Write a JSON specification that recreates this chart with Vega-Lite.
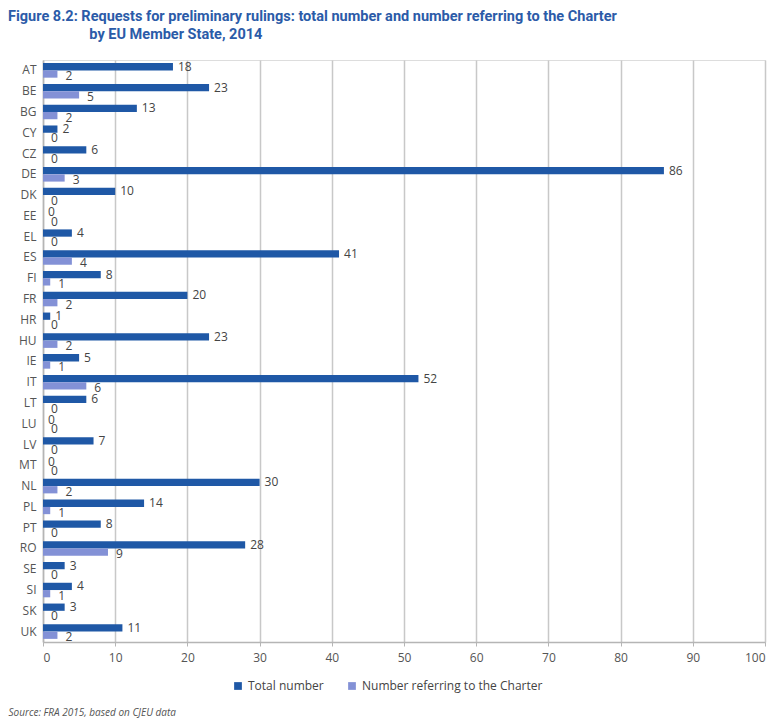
{
  "$schema": "https://vega.github.io/schema/vega-lite/v6.json",
  "width": 722,
  "height": 582,
  "autosize": {"type": "none"},
  "padding": {"left": 43, "top": 60, "right": 14, "bottom": 76},
  "background": "white",
  "title": {
    "text": ["Figure 8.2: Requests for preliminary rulings: total number and number referring to the Charter", "\u200b\u2002\u2002\u2002\u2002\u2002\u2002\u2002\u2002\u2002\u2002\u2002by EU Member State, 2014"],
    "anchor": "start",
    "frame": "group",
    "dx": -35,
    "offset": 18,
    "font": "Roboto, sans-serif",
    "fontSize": 14.5,
    "fontWeight": "bold",
    "color": "#2b5ba8",
    "lineHeight": 18
  },
  "data": {
    "values": [
      {"country": "AT", "series": "Total number", "value": 18},
      {"country": "AT", "series": "Number referring to the Charter", "value": 2},
      {"country": "BE", "series": "Total number", "value": 23},
      {"country": "BE", "series": "Number referring to the Charter", "value": 5},
      {"country": "BG", "series": "Total number", "value": 13},
      {"country": "BG", "series": "Number referring to the Charter", "value": 2},
      {"country": "CY", "series": "Total number", "value": 2},
      {"country": "CY", "series": "Number referring to the Charter", "value": 0},
      {"country": "CZ", "series": "Total number", "value": 6},
      {"country": "CZ", "series": "Number referring to the Charter", "value": 0},
      {"country": "DE", "series": "Total number", "value": 86},
      {"country": "DE", "series": "Number referring to the Charter", "value": 3},
      {"country": "DK", "series": "Total number", "value": 10},
      {"country": "DK", "series": "Number referring to the Charter", "value": 0},
      {"country": "EE", "series": "Total number", "value": 0},
      {"country": "EE", "series": "Number referring to the Charter", "value": 0},
      {"country": "EL", "series": "Total number", "value": 4},
      {"country": "EL", "series": "Number referring to the Charter", "value": 0},
      {"country": "ES", "series": "Total number", "value": 41},
      {"country": "ES", "series": "Number referring to the Charter", "value": 4},
      {"country": "FI", "series": "Total number", "value": 8},
      {"country": "FI", "series": "Number referring to the Charter", "value": 1},
      {"country": "FR", "series": "Total number", "value": 20},
      {"country": "FR", "series": "Number referring to the Charter", "value": 2},
      {"country": "HR", "series": "Total number", "value": 1},
      {"country": "HR", "series": "Number referring to the Charter", "value": 0},
      {"country": "HU", "series": "Total number", "value": 23},
      {"country": "HU", "series": "Number referring to the Charter", "value": 2},
      {"country": "IE", "series": "Total number", "value": 5},
      {"country": "IE", "series": "Number referring to the Charter", "value": 1},
      {"country": "IT", "series": "Total number", "value": 52},
      {"country": "IT", "series": "Number referring to the Charter", "value": 6},
      {"country": "LT", "series": "Total number", "value": 6},
      {"country": "LT", "series": "Number referring to the Charter", "value": 0},
      {"country": "LU", "series": "Total number", "value": 0},
      {"country": "LU", "series": "Number referring to the Charter", "value": 0},
      {"country": "LV", "series": "Total number", "value": 7},
      {"country": "LV", "series": "Number referring to the Charter", "value": 0},
      {"country": "MT", "series": "Total number", "value": 0},
      {"country": "MT", "series": "Number referring to the Charter", "value": 0},
      {"country": "NL", "series": "Total number", "value": 30},
      {"country": "NL", "series": "Number referring to the Charter", "value": 2},
      {"country": "PL", "series": "Total number", "value": 14},
      {"country": "PL", "series": "Number referring to the Charter", "value": 1},
      {"country": "PT", "series": "Total number", "value": 8},
      {"country": "PT", "series": "Number referring to the Charter", "value": 0},
      {"country": "RO", "series": "Total number", "value": 28},
      {"country": "RO", "series": "Number referring to the Charter", "value": 9},
      {"country": "SE", "series": "Total number", "value": 3},
      {"country": "SE", "series": "Number referring to the Charter", "value": 0},
      {"country": "SI", "series": "Total number", "value": 4},
      {"country": "SI", "series": "Number referring to the Charter", "value": 1},
      {"country": "SK", "series": "Total number", "value": 3},
      {"country": "SK", "series": "Number referring to the Charter", "value": 0},
      {"country": "UK", "series": "Total number", "value": 11},
      {"country": "UK", "series": "Number referring to the Charter", "value": 2}
    ]
  },
  "encoding": {
    "y": {
      "field": "country",
      "type": "nominal",
      "sort": null,
      "scale": {"paddingInner": 0.3, "paddingOuter": 0.15},
      "axis": {
        "title": null,
        "ticks": false,
        "domain": true,
        "domainColor": "#b5b5b5",
        "domainWidth": 1.5,
        "labelPadding": 7,
        "labelFont": "Open Sans",
        "labelFontSize": 12,
        "labelColor": "#555555"
      }
    },
    "yOffset": {
      "field": "series",
      "type": "nominal",
      "scale": {"domain": ["Total number", "Number referring to the Charter"], "paddingInner": 0}
    },
    "x": {
      "field": "value",
      "type": "quantitative",
      "scale": {"domain": [0, 100], "nice": false},
      "axis": {
        "values": [0, 10, 20, 30, 40, 50, 60, 70, 80, 90, 100],
        "grid": true,
        "gridColor": "#c8c8c8",
        "gridWidth": 1.5,
        "domainColor": "#b5b5b5",
        "domainWidth": 1.5,
        "tickColor": "#b5b5b5",
        "tickSize": 4,
        "labelPadding": 6,
        "labelFont": "Open Sans",
        "labelFontSize": 12,
        "labelColor": "#555555",
        "title": "Source: FRA 2015, based on CJEU data",
        "titleFont": "Open Sans",
        "titleFontSize": 10,
        "titleFontStyle": "italic",
        "titleFontWeight": "normal",
        "titleColor": "#555555",
        "titleAnchor": "start",
        "titleAlign": "left",
        "titleX": -35,
        "titleY": 73,
        "titleBaseline": "alphabetic"
      }
    }
  },
  "layer": [
    {
      "mark": {"type": "bar"},
      "encoding": {
        "color": {
          "field": "series",
          "type": "nominal",
          "scale": {"domain": ["Total number", "Number referring to the Charter"], "range": ["#1f58a6", "#8391d6"]},
          "legend": {
            "orient": "none",
            "legendX": 189,
            "legendY": 620,
            "direction": "horizontal",
            "title": null,
            "symbolType": "square",
            "symbolSize": 60,
            "symbolStrokeWidth": 0,
            "labelFont": "Open Sans",
            "labelFontSize": 12,
            "labelColor": "#444444",
            "labelLimit": 0,
            "columnPadding": 22
          }
        }
      }
    },
    {
      "transform": [{"filter": "datum.series === 'Total number'"}],
      "mark": {"type": "text", "align": "left", "baseline": "middle", "dx": 5, "font": "Open Sans", "fontSize": 12, "color": "#444444"},
      "encoding": {"text": {"field": "value", "type": "quantitative"}}
    },
    {
      "transform": [{"filter": "datum.series === 'Number referring to the Charter'"}],
      "mark": {"type": "text", "align": "left", "baseline": "middle", "dx": 8, "dy": 2, "font": "Open Sans", "fontSize": 12, "color": "#444444"},
      "encoding": {"text": {"field": "value", "type": "quantitative"}}
    }
  ]
}
